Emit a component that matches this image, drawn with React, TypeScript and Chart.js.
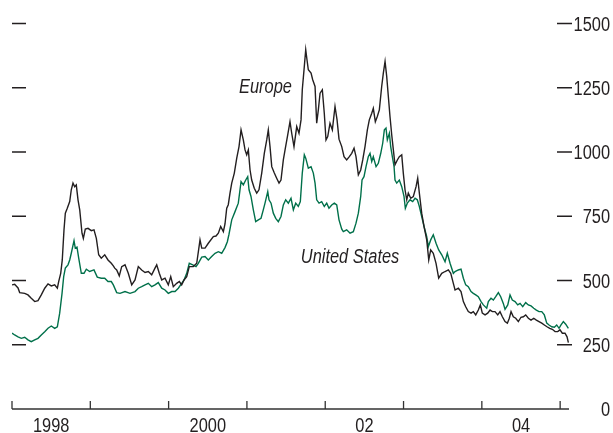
import React, { useEffect, useRef } from "react";
import { Chart, registerables } from "chart.js";

Chart.register(...registerables);

// Spreads in basis points; dates are decimal years.
const europeDates = [
  1998.000, 1998.034, 1998.077, 1998.098, 1998.162, 1998.204, 1998.246, 1998.290, 1998.332, 1998.374,
  1998.418, 1998.460, 1998.502, 1998.545, 1998.579, 1998.596, 1998.622, 1998.642, 1998.664, 1998.681,
  1998.706, 1998.737, 1998.757, 1998.779, 1998.801, 1998.821, 1998.843, 1998.865, 1998.894, 1998.911,
  1998.936, 1998.971, 1999.013, 1999.047, 1999.077, 1999.107, 1999.140, 1999.184, 1999.226, 1999.268,
  1999.294, 1999.312, 1999.337, 1999.370, 1999.401, 1999.443, 1999.485, 1999.529, 1999.571, 1999.613,
  1999.656, 1999.699, 1999.741, 1999.784, 1999.826, 1999.848, 1999.881, 1999.912, 1999.954, 1999.996,
  2000.027, 2000.060, 2000.103, 2000.137, 2000.167, 2000.197, 2000.231, 2000.264, 2000.315, 2000.359,
  2000.401, 2000.423, 2000.465, 2000.507, 2000.571, 2000.605, 2000.635, 2000.665, 2000.699, 2000.720,
  2000.742, 2000.762, 2000.784, 2000.806, 2000.839, 2000.870, 2000.899, 2000.925, 2000.954, 2000.976,
  2000.997, 2001.018, 2001.040, 2001.061, 2001.094, 2001.125, 2001.154, 2001.189, 2001.222, 2001.253,
  2001.273, 2001.295, 2001.317, 2001.350, 2001.380, 2001.410, 2001.435, 2001.465, 2001.487, 2001.521,
  2001.550, 2001.572, 2001.601, 2001.636, 2001.665, 2001.691, 2001.707, 2001.733, 2001.751, 2001.767,
  2001.784, 2001.819, 2001.840, 2001.870, 2001.891, 2001.912, 2001.934, 2001.963, 2001.988, 2002.010,
  2002.032, 2002.061, 2002.091, 2002.125, 2002.151, 2002.176, 2002.211, 2002.240, 2002.274, 2002.308,
  2002.338, 2002.368, 2002.393, 2002.423, 2002.453, 2002.479, 2002.508, 2002.538, 2002.563, 2002.594,
  2002.614, 2002.640, 2002.665, 2002.691, 2002.721, 2002.742, 2002.764, 2002.785, 2002.806, 2002.827,
  2002.849, 2002.870, 2002.891, 2002.921, 2002.946, 2002.977, 2002.997, 2003.019, 2003.041, 2003.061,
  2003.092, 2003.125, 2003.160, 2003.181, 2003.202, 2003.232, 2003.262, 2003.296, 2003.322, 2003.347,
  2003.380, 2003.415, 2003.449, 2003.488, 2003.530, 2003.572, 2003.603, 2003.636, 2003.658, 2003.700,
  2003.734, 2003.764, 2003.794, 2003.827, 2003.862, 2003.891, 2003.922, 2003.955, 2003.981, 2004.006,
  2004.041, 2004.075, 2004.105, 2004.134, 2004.168, 2004.203, 2004.232, 2004.262, 2004.296, 2004.326,
  2004.351, 2004.373, 2004.402, 2004.433, 2004.466, 2004.500, 2004.530, 2004.560, 2004.594, 2004.628,
  2004.663, 2004.696, 2004.730, 2004.765, 2004.798, 2004.832, 2004.867, 2004.900, 2004.935, 2004.969,
  2004.998, 2005.028, 2005.062, 2005.088, 2005.105,
];

const europeSpread = [
  483, 485, 471, 453, 450, 444, 431, 418, 422, 444,
  470, 487, 479, 483, 470, 496, 528, 580, 697, 762,
  781, 807, 853, 879, 865, 872, 814, 775, 684, 664,
  700, 703, 694, 697, 664, 600, 587, 600, 580, 567,
  557, 548, 541, 518, 554, 561, 528, 483, 502, 554,
  541, 531, 535, 522, 548, 561, 528, 502, 509, 483,
  515, 476, 489, 496, 483, 502, 515, 554, 554, 567,
  658, 626, 626, 645, 671, 673, 684, 710, 690, 720,
  781, 795, 840, 879, 918, 976, 1021, 1086, 1047, 1008,
  989, 1008, 930, 891, 859, 840, 853, 918, 995, 1047,
  1086, 1021, 943, 918, 898, 879, 891, 969, 1008, 1067,
  1118, 1073, 1021, 1099, 1073, 1125, 1242, 1333, 1398, 1359,
  1320, 1307, 1281, 1255, 1112, 1164, 1229, 1242, 1151, 1047,
  1060, 1112, 1086, 1177, 1125, 1050, 1021, 982, 969, 982,
  995, 1015, 982, 911, 930, 969, 1021, 1086, 1125, 1151,
  1170, 1118, 1138, 1164, 1255, 1307, 1352, 1294, 1216, 1138,
  1067, 1008, 950, 969, 982, 989, 918, 853, 814, 840,
  820, 827, 865, 898, 840, 762, 710, 658, 580, 619,
  606, 567, 509, 528, 535, 541, 528, 489, 463, 470,
  457, 418, 398, 379, 373, 379, 366, 385, 405, 373,
  366, 373, 385, 379, 379, 366, 379, 359, 340, 334,
  353, 379, 359, 353, 340, 357, 359, 366, 353, 346,
  353, 346, 340, 334, 327, 320, 314, 310, 301, 301,
  308, 295, 295, 281, 258,
];

const usDates = [
  1998.000, 1998.034, 1998.077, 1998.119, 1998.162, 1998.204, 1998.246, 1998.290, 1998.332, 1998.374,
  1998.418, 1998.460, 1998.502, 1998.545, 1998.579, 1998.609, 1998.639, 1998.660, 1998.681, 1998.715,
  1998.737, 1998.757, 1998.792, 1998.808, 1998.830, 1998.852, 1998.885, 1998.920, 1998.949, 1998.992,
  1999.047, 1999.089, 1999.140, 1999.184, 1999.226, 1999.268, 1999.294, 1999.337, 1999.379, 1999.443,
  1999.507, 1999.571, 1999.613, 1999.656, 1999.699, 1999.741, 1999.784, 1999.826, 1999.868, 1999.912,
  1999.954, 1999.996, 2000.040, 2000.082, 2000.124, 2000.167, 2000.197, 2000.231, 2000.264, 2000.308,
  2000.350, 2000.379, 2000.423, 2000.465, 2000.507, 2000.550, 2000.593, 2000.635, 2000.678, 2000.720,
  2000.750, 2000.771, 2000.806, 2000.848, 2000.890, 2000.925, 2000.954, 2000.985, 2001.010, 2001.027,
  2001.052, 2001.082, 2001.112, 2001.146, 2001.180, 2001.209, 2001.231, 2001.266, 2001.282, 2001.308,
  2001.337, 2001.368, 2001.401, 2001.435, 2001.465, 2001.495, 2001.529, 2001.563, 2001.593, 2001.623,
  2001.656, 2001.682, 2001.707, 2001.733, 2001.751, 2001.784, 2001.819, 2001.848, 2001.870, 2001.891,
  2001.921, 2001.955, 2001.988, 2002.019, 2002.048, 2002.083, 2002.116, 2002.147, 2002.176, 2002.211,
  2002.231, 2002.274, 2002.317, 2002.359, 2002.393, 2002.423, 2002.453, 2002.470, 2002.495, 2002.521,
  2002.550, 2002.572, 2002.594, 2002.614, 2002.649, 2002.678, 2002.709, 2002.734, 2002.755, 2002.776,
  2002.793, 2002.819, 2002.836, 2002.857, 2002.879, 2002.891, 2002.913, 2002.946, 2002.977, 2003.006,
  2003.023, 2003.048, 2003.083, 2003.117, 2003.147, 2003.176, 2003.202, 2003.232, 2003.262, 2003.296,
  2003.317, 2003.347, 2003.380, 2003.415, 2003.449, 2003.488, 2003.530, 2003.559, 2003.594, 2003.636,
  2003.658, 2003.700, 2003.734, 2003.764, 2003.794, 2003.827, 2003.862, 2003.891, 2003.922, 2003.955,
  2003.990, 2004.019, 2004.062, 2004.083, 2004.117, 2004.147, 2004.177, 2004.211, 2004.241, 2004.274,
  2004.296, 2004.331, 2004.360, 2004.389, 2004.424, 2004.458, 2004.488, 2004.522, 2004.560, 2004.594,
  2004.628, 2004.663, 2004.696, 2004.730, 2004.765, 2004.798, 2004.829, 2004.858, 2004.893, 2004.926,
  2004.956, 2004.986, 2005.011, 2005.041, 2005.071, 2005.105,
];

const usSpread = [
  295, 288, 281, 275, 279, 269, 262, 269, 275, 288,
  301, 314, 323, 314, 320, 373, 450, 515, 548, 561,
  580, 606, 655, 626, 630, 587, 528, 528, 544, 535,
  541, 513, 509, 509, 496, 496, 483, 453, 450, 457,
  450, 457, 470, 476, 483, 489, 476, 483, 492, 470,
  463, 450, 457, 457, 470, 489, 502, 528, 567, 561,
  554, 567, 591, 593, 580, 593, 606, 612, 606, 628,
  651, 680, 736, 768, 801, 885, 872, 891, 904, 853,
  827, 775, 729, 736, 742, 775, 801, 846, 814, 801,
  762, 742, 729, 749, 794, 814, 801, 820, 775, 801,
  788, 807, 918, 989, 976, 937, 943, 918, 879, 814,
  801, 807, 788, 801, 781, 794, 801, 794, 736, 700,
  690, 697, 684, 690, 723, 762, 827, 891, 904, 943,
  982, 995, 963, 982, 943, 956, 995, 1034, 1086, 1093,
  1047, 1073, 1021, 982, 943, 891, 879, 891, 865, 827,
  781, 801, 814, 807, 820, 814, 788, 749, 710, 671,
  632, 658, 678, 645, 619, 600, 573, 606, 567, 528,
  535, 541, 544, 509, 483, 476, 457, 450, 444, 437,
  418, 405, 392, 418, 431, 424, 437, 453, 437, 411,
  388, 405, 444, 424, 418, 405, 411, 398, 414, 405,
  401, 392, 385, 379, 379, 366, 334, 327, 320, 318,
  327, 314, 327, 340, 330, 314,
];

// Axis definitions
const valueTicks = [0, 250, 500, 750, 1000, 1250, 1500];
const yearTicks = [1998, 1999, 2000, 2001, 2002, 2003, 2004, 2005];
const yearLabels = ["1998", "2000", "02", "04"];
const yearLabelPositions = [1998.5, 2000.5, 2002.5, 2004.5];
const xMin = 1998;
const xMax = 2005.113;

// In-chart series names (centre date, baseline value)
const seriesNames = ["Europe", "United States"];
const seriesNameDates = [2001.237, 2002.317];
const seriesNameValues = [1230, 568];

const EUROPE_COLOR = "#231f20";
const US_COLOR = "#00704a";
const INK = "#231f20";
const FONT_FAMILY = "'Liberation Sans', Arial, sans-serif";
const NARROW = 0.82; // horizontal condensing of the sans face

function drawNarrowText(ctx: CanvasRenderingContext2D, text: string, x: number, y: number, align: CanvasTextAlign) {
  ctx.save();
  ctx.translate(x, y);
  ctx.scale(NARROW, 1);
  ctx.textAlign = align;
  ctx.textBaseline = "alphabetic";
  ctx.fillText(text, 0, 0);
  ctx.restore();
}

const axisMarksPlugin = {
  id: "axisMarks",
  beforeDatasetsDraw(chart: any) {
    const { ctx, chartArea, scales } = chart;
    const xs = scales.x;
    const ys = scales.y;
    const base = ys.getPixelForValue(0);
    ctx.save();
    ctx.strokeStyle = "#333333";
    ctx.lineWidth = 1.3;
    ctx.beginPath();
    ctx.moveTo(chartArea.left, base);
    ctx.lineTo(chartArea.right, base);
    yearTicks.forEach((yr) => {
      const px = xs.getPixelForValue(yr);
      ctx.moveTo(px, base);
      ctx.lineTo(px, base - 8);
    });
    ctx.stroke();

    ctx.strokeStyle = INK;
    ctx.beginPath();
    valueTicks
      .filter((v) => v > 0)
      .forEach((v) => {
        const py = ys.getPixelForValue(v);
        ctx.moveTo(chartArea.left, py);
        ctx.lineTo(chartArea.left + 14, py);
        ctx.moveTo(chartArea.right - 12, py);
        ctx.lineTo(chartArea.right + 3, py);
      });
    ctx.stroke();
    ctx.restore();
  },
  afterDraw(chart: any) {
    const { ctx, chartArea, scales } = chart;
    ctx.save();
    ctx.fillStyle = INK;
    ctx.font = `20px ${FONT_FAMILY}`;
    // value labels, right-aligned in the right margin
    valueTicks.forEach((v) => {
      drawNarrowText(ctx, String(v), chart.width - 3, scales.y.getPixelForValue(v) + 7, "right");
    });
    // year labels, centred between the year ticks
    yearLabels.forEach((label, i) => {
      drawNarrowText(ctx, label, scales.x.getPixelForValue(yearLabelPositions[i]), chartArea.bottom + 23, "center");
    });
    ctx.restore();
  },
};

const seriesNamePlugin = {
  id: "seriesNames",
  afterDatasetsDraw(chart: any) {
    const { ctx, scales } = chart;
    ctx.save();
    ctx.font = `italic 20px ${FONT_FAMILY}`;
    ctx.fillStyle = INK;
    seriesNames.forEach((name, i) => {
      drawNarrowText(
        ctx,
        name,
        scales.x.getPixelForValue(seriesNameDates[i]),
        scales.y.getPixelForValue(seriesNameValues[i]),
        "center"
      );
    });
    ctx.restore();
  },
};

export default function App() {
  const canvasRef = useRef<HTMLCanvasElement | null>(null);

  useEffect(() => {
    document.body.style.margin = "0";
    const canvas = canvasRef.current;
    if (!canvas) return;

    const chart = new Chart(canvas, {
      type: "line",
      data: {
        datasets: [
          {
            label: "Europe",
            data: europeDates.map((t, i) => ({ x: t, y: europeSpread[i] })),
            borderColor: EUROPE_COLOR,
            borderWidth: 1.4,
            pointRadius: 0,
            tension: 0,
            fill: false,
          },
          {
            label: "United States",
            data: usDates.map((t, i) => ({ x: t, y: usSpread[i] })),
            borderColor: US_COLOR,
            borderWidth: 1.4,
            pointRadius: 0,
            tension: 0,
            fill: false,
          },
        ],
      },
      options: {
        animation: false,
        responsive: false,
        devicePixelRatio: 1,
        layout: { padding: { left: 12, top: 23.5, right: 44, bottom: 24 } },
        plugins: {
          legend: { display: false },
          tooltip: { enabled: false },
        },
        scales: {
          x: { type: "linear", display: false, min: xMin, max: xMax },
          y: { type: "linear", display: false, min: 0, max: 1500 },
        },
      } as any,
      plugins: [axisMarksPlugin, seriesNamePlugin],
    });

    return () => chart.destroy();
  }, []);

  return (
    <div style={{ width: 613, height: 433, background: "#ffffff" }}>
      <canvas ref={canvasRef} width={613} height={433} />
    </div>
  );
}
